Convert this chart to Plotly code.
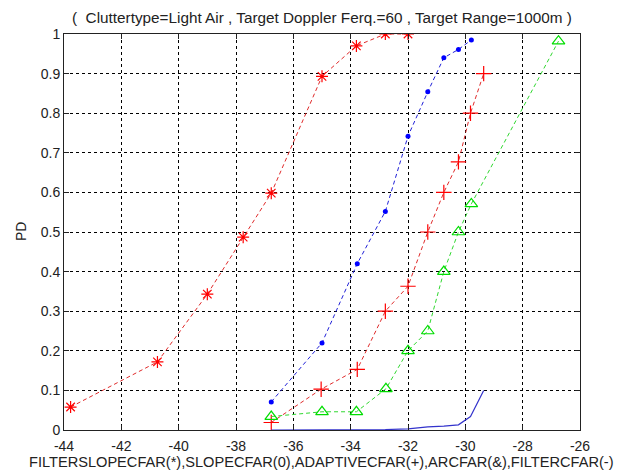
import plotly.graph_objects as go

# Detection probability vs. SCR (dB) for five CFAR detectors
filter_slope_x = [-43.77, -40.74, -39.0, -37.75, -36.77, -35.0, -33.8, -32.79, -32.0]
filter_slope_pd = [0.058, 0.172, 0.343, 0.487, 0.598, 0.893, 0.970, 1.0, 1.0]

slope_x = [-36.77, -35.0, -33.77, -32.79, -32.0, -31.31, -30.75, -30.24, -29.79]
slope_pd = [0.071, 0.220, 0.420, 0.552, 0.742, 0.854, 0.940, 0.961, 0.985]

adaptive_x = [-36.77, -35.03, -33.77, -32.79, -32.0, -31.31, -30.75, -30.24, -29.82, -29.36]
adaptive_pd = [0.019, 0.103, 0.153, 0.300, 0.363, 0.500, 0.600, 0.677, 0.800, 0.900]

ar_x = [-36.77, -35.0, -33.8, -32.77, -32.0, -31.31, -30.75, -30.24, -29.79, -26.75]
ar_pd = [0.034, 0.046, 0.046, 0.104, 0.200, 0.250, 0.400, 0.500, 0.571, 0.982]

filter_x = [-36.77, -35.0, -33.8, -32.79, -32.0, -31.31, -30.75, -30.24, -29.82, -29.36]
filter_pd = [0.0, 0.0, 0.0, 0.001, 0.003, 0.008, 0.010, 0.013, 0.034, 0.100]

x_ticks = [-44, -42, -40, -38, -36, -34, -32, -30, -28, -26]
x_tick_labels = ["-44", "-42", "-40", "-38", "-36", "-34", "-32", "-30", "-28", "-26"]
y_ticks = [0, 0.1, 0.2, 0.3, 0.4, 0.5, 0.6, 0.7, 0.8, 0.9, 1]
y_tick_labels = ["0", "0.1", "0.2", "0.3", "0.4", "0.5", "0.6", "0.7", "0.8", "0.9", "1"]

title_text = "(  Cluttertype=Light Air , Target Doppler Ferq.=60 , Target Range=1000m )"
x_label = "FILTERSLOPECFAR(*),SLOPECFAR(0),ADAPTIVECFAR(+),ARCFAR(&),FILTERCFAR(-)"
y_label = "PD"

FONT = "Liberation Sans, Arial, sans-serif"
DASH = "4px,3px"

fig = go.Figure()

fig.add_trace(go.Scatter(
    x=filter_slope_x, y=filter_slope_pd, mode="lines+markers",
    line=dict(color="#e02a2a", width=1, dash=DASH),
    marker=dict(symbol="asterisk-open", size=10, color="#ff0000",
                line=dict(color="#ff0000", width=1.2)),
))
fig.add_trace(go.Scatter(
    x=slope_x, y=slope_pd, mode="lines+markers",
    line=dict(color="#2020d8", width=1, dash=DASH),
    marker=dict(symbol="circle", size=5, color="#0000ff"),
))
fig.add_trace(go.Scatter(
    x=adaptive_x, y=adaptive_pd, mode="lines+markers",
    line=dict(color="#e02a2a", width=1, dash=DASH),
    marker=dict(symbol="cross-thin-open", size=11, color="#ff0000",
                line=dict(color="#ff0000", width=1.2)),
))
fig.add_trace(go.Scatter(
    x=ar_x, y=ar_pd, mode="lines+markers",
    line=dict(color="#30d830", width=1, dash=DASH),
    marker=dict(symbol="triangle-up-open", size=11, color="#00dd00",
                line=dict(color="#00dd00", width=1.2)),
))
fig.add_trace(go.Scatter(
    x=filter_x, y=filter_pd, mode="lines",
    line=dict(color="#3333cc", width=1.2),
))

axis_common = dict(
    showline=True, linecolor="#222222", linewidth=1, mirror="ticks",
    ticks="inside", ticklen=5, tickcolor="#222222",
    showgrid=True, gridcolor="#000000", gridwidth=1, griddash="3px,3px",
    zeroline=False, tickfont=dict(family=FONT, size=14, color="#222222"),
)

fig.update_layout(
    width=630, height=473,
    margin=dict(l=64, r=50, t=34, b=43),
    paper_bgcolor="white", plot_bgcolor="white",
    showlegend=False,
    font=dict(family=FONT, color="#222222"),
    xaxis=dict(range=[-44, -26], tickmode="array", tickvals=x_ticks,
               ticktext=x_tick_labels, ticklabelstandoff=3, **axis_common),
    yaxis=dict(range=[0, 1], tickmode="array", tickvals=y_ticks,
               ticktext=y_tick_labels, **axis_common),
    annotations=[
        dict(text=title_text, xref="paper", yref="paper", x=0.5, y=1,
             xanchor="center", yanchor="middle", yshift=17, showarrow=False,
             font=dict(family=FONT, size=15.3, color="#222222")),
        dict(text=x_label, xref="paper", yref="paper", x=0.5, y=0,
             xanchor="center", yanchor="top", yshift=-22, xshift=-1, showarrow=False,
             font=dict(family=FONT, size=14.6, color="#222222")),
        dict(text=y_label, xref="paper", yref="paper", x=0, y=0.5,
             xanchor="center", yanchor="middle", xshift=-43, textangle=-90,
             showarrow=False, font=dict(family=FONT, size=14, color="#222222")),
    ],
)

fig.write_html("out.html")
